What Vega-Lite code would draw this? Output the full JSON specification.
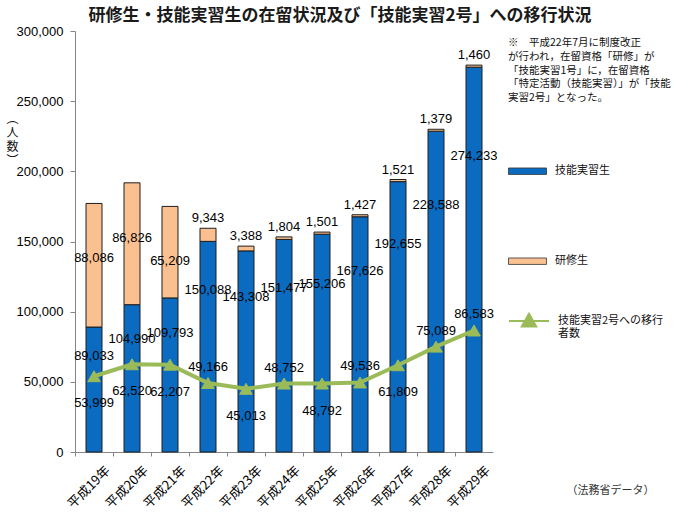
{
  "$schema": "https://vega.github.io/schema/vega-lite/v6.json",
  "width": 418,
  "height": 421,
  "autosize": "none",
  "padding": {"left": 75, "top": 31, "right": 196, "bottom": 62},
  "background": "white",
  "title": {
    "text": "研修生・技能実習生の在留状況及び「技能実習2号」への移行状況",
    "font": "Noto Sans CJK JP",
    "fontSize": 17,
    "fontWeight": "bold",
    "color": "#1a1a1a",
    "anchor": "middle",
    "frame": "group",
    "baseline": "bottom",
    "dx": 56,
    "offset": -17
  },
  "config": {
    "view": {"stroke": null},
    "font": "Noto Sans CJK JP",
    "legend": {"padding": 0}
  },
  "datasets": {
    "bars": [
      {"year": "平成19年", "s": "技能実習生", "v": 89033, "k": 1},
      {"year": "平成19年", "s": "研修生", "v": 88086, "k": 2},
      {"year": "平成20年", "s": "技能実習生", "v": 104990, "k": 1},
      {"year": "平成20年", "s": "研修生", "v": 86826, "k": 2},
      {"year": "平成21年", "s": "技能実習生", "v": 109793, "k": 1},
      {"year": "平成21年", "s": "研修生", "v": 65209, "k": 2},
      {"year": "平成22年", "s": "技能実習生", "v": 150088, "k": 1},
      {"year": "平成22年", "s": "研修生", "v": 9343, "k": 2},
      {"year": "平成23年", "s": "技能実習生", "v": 143308, "k": 1},
      {"year": "平成23年", "s": "研修生", "v": 3388, "k": 2},
      {"year": "平成24年", "s": "技能実習生", "v": 151477, "k": 1},
      {"year": "平成24年", "s": "研修生", "v": 1804, "k": 2},
      {"year": "平成25年", "s": "技能実習生", "v": 155206, "k": 1},
      {"year": "平成25年", "s": "研修生", "v": 1501, "k": 2},
      {"year": "平成26年", "s": "技能実習生", "v": 167626, "k": 1},
      {"year": "平成26年", "s": "研修生", "v": 1427, "k": 2},
      {"year": "平成27年", "s": "技能実習生", "v": 192655, "k": 1},
      {"year": "平成27年", "s": "研修生", "v": 1521, "k": 2},
      {"year": "平成28年", "s": "技能実習生", "v": 228588, "k": 1},
      {"year": "平成28年", "s": "研修生", "v": 1379, "k": 2},
      {"year": "平成29年", "s": "技能実習生", "v": 274233, "k": 1},
      {"year": "平成29年", "s": "研修生", "v": 1460, "k": 2}
    ],
    "line": [
      {"year": "平成19年", "n": 53999, "pos": "below", "series": "技能実習2号への移行者数"},
      {"year": "平成20年", "n": 62520, "pos": "below", "series": "技能実習2号への移行者数"},
      {"year": "平成21年", "n": 62207, "pos": "below", "series": "技能実習2号への移行者数"},
      {"year": "平成22年", "n": 49166, "pos": "above", "series": "技能実習2号への移行者数"},
      {"year": "平成23年", "n": 45013, "pos": "below", "series": "技能実習2号への移行者数"},
      {"year": "平成24年", "n": 48752, "pos": "above", "series": "技能実習2号への移行者数"},
      {"year": "平成25年", "n": 48792, "pos": "below", "series": "技能実習2号への移行者数"},
      {"year": "平成26年", "n": 49536, "pos": "above", "series": "技能実習2号への移行者数"},
      {"year": "平成27年", "n": 61809, "pos": "below", "series": "技能実習2号への移行者数"},
      {"year": "平成28年", "n": 75089, "pos": "above", "series": "技能実習2号への移行者数"},
      {"year": "平成29年", "n": 86583, "pos": "above", "series": "技能実習2号への移行者数"}
    ]
  },
  "resolve": {"scale": {"y": "independent"}},
  "layer": [
    {
      "data": {"name": "bars"},
      "transform": [
        {"stack": "v", "groupby": ["year"], "sort": [{"field": "k", "order": "ascending"}], "as": ["v0", "v1"]}
      ],
      "layer": [
        {
          "mark": {"type": "bar", "size": 16, "stroke": "#1e1e1e", "strokeWidth": 1},
          "encoding": {
            "x": {
              "field": "year", "type": "nominal", "sort": null,
              "scale": {"paddingInner": 0, "paddingOuter": 0},
              "axis": {
                "title": "（法務省データ）",
                "titleX": 535, "titleY": 38,
                "titleAlign": "center", "titleBaseline": "middle",
                "titleFontSize": 11, "titleFontWeight": "normal", "titleColor": "#333",
                "labelAngle": -45, "labelAlign": "right", "labelBaseline": "middle",
                "labelFontSize": 13, "labelColor": "#000", "labelPadding": 12, "labelOffset": 14,
                "bandPosition": 0,
                "domainColor": "#868686", "tickColor": "#868686", "tickSize": 4
              }
            },
            "y": {
              "field": "v0", "type": "quantitative",
              "scale": {"domain": [0, 300000], "nice": false},
              "axis": {
                "title": ["︵", "人", "数", "︶"],
                "titleAngle": 0, "titleX": -63, "titleY": 82,
                "titleAlign": "center", "titleBaseline": "top",
                "titleFontSize": 12, "titleLineHeight": 14, "titleFontWeight": "normal", "titleColor": "#111",
                "values": [0, 50000, 100000, 150000, 200000, 250000, 300000],
                "labelExpr": "format(datum.value, ',')", "grid": false,
                "labelFont": "Liberation Sans", "labelFontSize": 13, "labelColor": "#000", "labelPadding": 7,
                "tickSize": 5, "domainColor": "#868686", "tickColor": "#868686"
              }
            },
            "y2": {"field": "v1"},
            "fill": {
              "field": "s", "type": "nominal",
              "scale": {"domain": ["技能実習生", "研修生"], "range": ["#0A6BC0", "#FAC090"]},
              "legend": {
                "orient": "none", "legendX": 433, "legendY": 7,
                "title": ["※　平成22年7月に制度改正", "が行われ，在留資格「研修」が", "「技能実習1号」に，在留資格", "「特定活動（技能実習）」が「技能", "実習2号」となった。"],
                "titleFontSize": 10.5, "titleFontWeight": "normal", "titleLineHeight": 13.8,
                "titleColor": "#111", "titlePadding": 48, "titleLimit": 300, "titleAnchor": "start",
                "symbolType": "M-1,-0.17H1V0.17H-1Z", "symbolSize": 1440,
                "symbolStrokeColor": "#333", "symbolStrokeWidth": 0.8,
                "labelFontSize": 11, "labelColor": "#111", "labelOffset": 8, "rowPadding": 65,
                "encode": {"symbols": {"update": {"stroke": {"value": "#333"}, "strokeWidth": {"value": 0.8}}}}
              }
            },
            "order": {"field": "k", "type": "quantitative"}
          }
        },
        {
          "transform": [{"filter": "datum.k == 2 && datum.v > 50000"}],
          "mark": {"type": "text", "dy": 55, "font": "Liberation Sans", "fontSize": 13, "color": "#000"},
          "encoding": {
            "x": {"field": "year", "type": "nominal", "sort": null},
            "y": {"field": "v1", "type": "quantitative"},
            "text": {"field": "v", "type": "quantitative", "format": ","}
          }
        },
        {
          "transform": [{"filter": "datum.k == 2 && datum.v <= 50000"}],
          "mark": {"type": "text", "dy": -10, "font": "Liberation Sans", "fontSize": 13, "color": "#000"},
          "encoding": {
            "x": {"field": "year", "type": "nominal", "sort": null},
            "y": {"field": "v1", "type": "quantitative"},
            "text": {"field": "v", "type": "quantitative", "format": ","}
          }
        }
      ]
    },
    {
      "data": {"name": "bars"},
      "transform": [{"filter": "datum.k == 1"}],
      "mark": {"type": "text", "font": "Liberation Sans", "fontSize": 13, "color": "#000"},
      "encoding": {
        "x": {"field": "year", "type": "nominal", "sort": null},
        "y": {"field": "v", "type": "quantitative", "scale": {"domain": [0, 390000], "nice": false}, "axis": null},
        "text": {"field": "v", "type": "quantitative", "format": ","}
      }
    },
    {
      "data": {"name": "line"},
      "layer": [
        {
          "mark": {
            "type": "line", "strokeWidth": 4,
            "point": {"shape": "triangle-up", "size": 160, "filled": true, "fill": "#9BBB59", "strokeWidth": 1}
          },
          "encoding": {
            "x": {"field": "year", "type": "nominal", "sort": null},
            "y": {"field": "n", "type": "quantitative", "scale": {"domain": [0, 300000], "nice": false}, "axis": null},
            "stroke": {
              "field": "series", "type": "nominal",
              "scale": {"domain": ["技能実習2号への移行者数"], "range": ["#9BBB59"]},
              "legend": {
                "orient": "none", "legendX": 433, "legendY": 269, "title": null,
                "symbolType": "M-1,0H1M0,-0.36L0.36,0.28H-0.36Z", "symbolSize": 1600,
                "symbolStrokeWidth": 2, "symbolFillColor": "#9BBB59",
                "labelExpr": "datum.label == '技能実習2号への移行者数' ? ['技能実習2号への移行', '者数'] : datum.label",
                "labelFontSize": 11, "labelColor": "#111", "labelOffset": 8, "labelLimit": 200, "labelLineHeight": 15,
                "encode": {"symbols": {"update": {"fill": {"value": "#9BBB59"}, "stroke": {"value": "#9BBB59"}, "strokeWidth": {"value": 2}}}}
              }
            }
          }
        },
        {
          "transform": [{"filter": "datum.pos == 'above'"}],
          "mark": {"type": "text", "dy": -16, "font": "Liberation Sans", "fontSize": 13, "color": "#000"},
          "encoding": {
            "x": {"field": "year", "type": "nominal", "sort": null},
            "y": {"field": "n", "type": "quantitative", "axis": null},
            "text": {"field": "n", "type": "quantitative", "format": ","}
          }
        },
        {
          "transform": [{"filter": "datum.pos == 'below'"}],
          "mark": {"type": "text", "dy": 27, "font": "Liberation Sans", "fontSize": 13, "color": "#000"},
          "encoding": {
            "x": {"field": "year", "type": "nominal", "sort": null},
            "y": {"field": "n", "type": "quantitative", "axis": null},
            "text": {"field": "n", "type": "quantitative", "format": ","}
          }
        }
      ]
    }
  ]
}
